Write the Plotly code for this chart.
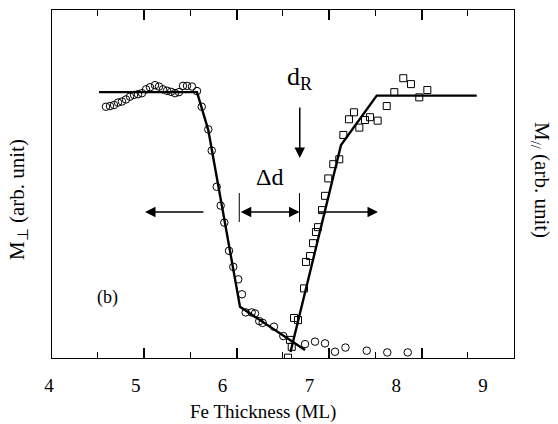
import plotly.graph_objects as go

# M_perp (open circles)
perp_x = [4.589, 4.632, 4.676, 4.719, 4.762, 4.805, 4.849, 4.892, 4.935, 4.978,
          5.022, 5.065, 5.119, 5.162, 5.205, 5.249, 5.292, 5.335, 5.378, 5.422,
          5.465, 5.519, 5.573, 5.624, 5.695, 5.732, 5.786, 5.829, 5.868, 5.919,
          5.965, 6.019, 6.059, 6.099, 6.164, 6.200, 6.246, 6.283, 6.405, 6.506,
          6.741, 6.849, 6.957, 7.065, 7.178, 7.408, 7.630, 7.851]
perp_y = [0.722, 0.724, 0.727, 0.734, 0.737, 0.743, 0.751, 0.756, 0.758, 0.761,
          0.772, 0.778, 0.784, 0.780, 0.772, 0.768, 0.765, 0.761, 0.764, 0.782,
          0.782, 0.780, 0.767, 0.722, 0.657, 0.596, 0.492, 0.438, 0.389, 0.308,
          0.262, 0.226, 0.183, 0.131, 0.131, 0.128, 0.106, 0.101, 0.090, 0.063,
          0.040, 0.047, 0.042, 0.018, 0.030, 0.021, 0.016, 0.016]

# M_par (open squares)
par_x = [6.557, 6.578, 6.597, 6.622, 6.665, 6.730, 6.751, 6.795, 6.827, 6.859,
         6.881, 6.924, 6.957, 6.992, 7.046, 7.111, 7.155, 7.216, 7.270, 7.328,
         7.389, 7.443, 7.526, 7.624, 7.706, 7.803, 7.886, 7.976, 8.063]
par_y = [0.001, 0.052, 0.032, 0.115, 0.109, 0.200, 0.276, 0.293, 0.330, 0.362,
         0.376, 0.425, 0.466, 0.516, 0.557, 0.571, 0.641, 0.686, 0.706, 0.662,
         0.684, 0.692, 0.682, 0.724, 0.764, 0.804, 0.787, 0.749, 0.770]

# piecewise-linear fits
fit_perp_x = [4.514, 5.573, 5.695, 6.038, 6.741]
fit_perp_y = [0.764, 0.764, 0.655, 0.147, 0.023]
fit_par_x = [6.584, 7.130, 7.516, 8.597]
fit_par_y = [0.017, 0.612, 0.754, 0.754]

major_ticks = [4, 5, 6, 7, 8, 9]
minor_ticks = [4.5, 5.5, 6.5, 7.5, 8.5]
tick_text = ["4", "5", "6", "7", "8", "9"]

FONT = "Liberation Serif, Times New Roman, Times, serif"
W, H = 558, 424
ML, MR, MT, MB = 40, 30, 10, 66
pw = W - ML - MR

fig = go.Figure()
fig.add_trace(go.Scatter(x=fit_perp_x, y=fit_perp_y, mode="lines",
                         line=dict(color="black", width=2.4), showlegend=False))
fig.add_trace(go.Scatter(x=fit_par_x, y=fit_par_y, mode="lines",
                         line=dict(color="black", width=2.4), showlegend=False))
fig.add_trace(go.Scatter(x=perp_x, y=perp_y, mode="markers",
                         marker=dict(symbol="circle-open", size=7.5, color="black",
                                     line=dict(width=1)), showlegend=False))
fig.add_trace(go.Scatter(x=par_x, y=par_y, mode="markers",
                         marker=dict(symbol="square-open", size=7, color="black",
                                     line=dict(width=1)), showlegend=False))
# empty traces for the label axis and the minor-tick axis
fig.add_trace(go.Scatter(x=[], y=[], xaxis="x2", yaxis="y", showlegend=False,
                         hoverinfo="skip"))
fig.add_trace(go.Scatter(x=[], y=[], xaxis="x3", yaxis="y", showlegend=False,
                         hoverinfo="skip"))

dom0 = (51.5 - ML) / pw
dom1 = (514 - ML) / pw
lab_l = 4 + (ML - 49) / 86.8
lab_r = 4 + (W - MR - 49) / 86.8

fig.update_layout(
    width=W, height=H,
    margin=dict(l=ML, r=MR, t=MT, b=MB),
    paper_bgcolor="white", plot_bgcolor="rgba(0,0,0,0)",
    font=dict(family=FONT, color="black"),
    xaxis=dict(range=[4, 9], domain=[dom0, dom1], showgrid=False, zeroline=False,
               showline=True, linecolor="black", linewidth=1.2, mirror="allticks",
               tickmode="array", tickvals=major_ticks,
               ticks="inside", ticklen=10, tickwidth=1.5, tickcolor="black",
               showticklabels=False),
    xaxis3=dict(range=[4, 9], overlaying="x", anchor="y", side="bottom",
                showgrid=False, zeroline=False, showline=False, mirror="allticks",
                tickmode="array", tickvals=minor_ticks,
                ticks="inside", ticklen=6, tickwidth=1.2, tickcolor="black",
                showticklabels=False),
    xaxis2=dict(range=[lab_l, lab_r], domain=[0, 1], anchor="y",
                side="bottom", showgrid=False, zeroline=False, showline=False,
                ticks="", tickmode="array", tickvals=major_ticks, ticktext=tick_text,
                tickfont=dict(family=FONT, size=19, color="black"),
                ticklabelstandoff=14, fixedrange=True),
    yaxis=dict(range=[0, 1], showgrid=False, zeroline=False, showline=True,
               linecolor="black", linewidth=1.2, mirror=True,
               ticks="", showticklabels=False),
)

arrow = dict(xref="x", yref="y", axref="x", ayref="y", showarrow=True,
             arrowhead=2, arrowsize=1.4, arrowwidth=1.5, arrowcolor="black",
             text="", standoff=0)
fig.add_annotation(x=5.011, y=0.4195, ax=5.659, ay=0.4195, **arrow)
fig.add_annotation(x=7.530, y=0.4195, ax=6.870, ay=0.4195, **arrow)
fig.add_annotation(x=6.681, y=0.4195, ax=6.030, ay=0.4195, arrowside="end+start", **arrow)
fig.add_annotation(x=6.684, y=0.575, ax=6.684, ay=0.724, **arrow)

for bx in [6.030, 6.681]:
    fig.add_shape(type="line", xref="x", yref="y", x0=bx, x1=bx, y0=0.391, y1=0.474,
                  line=dict(color="black", width=1))

fig.add_annotation(x=6.362, y=0.520, xref="x", yref="y", text="Δd", showarrow=False,
                   font=dict(family=FONT, size=24))
fig.add_annotation(x=6.686, y=0.805, xref="x", yref="y", text="d<sub>R</sub>",
                   showarrow=False, font=dict(family=FONT, size=26))
fig.add_annotation(x=4.600, y=0.175, xref="x", yref="y", text="(b)", showarrow=False,
                   font=dict(family=FONT, size=18))

fig.add_annotation(x=(263 - ML) / pw, y=(358 - 412) / 348, xref="paper", yref="paper",
                   xanchor="center", yanchor="middle",
                   text="Fe Thickness (ML)", showarrow=False,
                   font=dict(family=FONT, size=19))
fig.add_annotation(x=(18 - ML) / pw, y=(358 - 200) / 348, xref="paper", yref="paper",
                   xanchor="center", yanchor="middle",
                   text="M<sub>⊥</sub> (arb. unit)", textangle=-90, showarrow=False,
                   font=dict(family=FONT, size=21))
fig.add_annotation(x=(541 - ML) / pw, y=(358 - 180) / 348, xref="paper", yref="paper",
                   xanchor="center", yanchor="middle",
                   text="M<sub>//</sub> (arb. unit)", textangle=90, showarrow=False,
                   font=dict(family=FONT, size=21))

fig.write_html("out.html")
